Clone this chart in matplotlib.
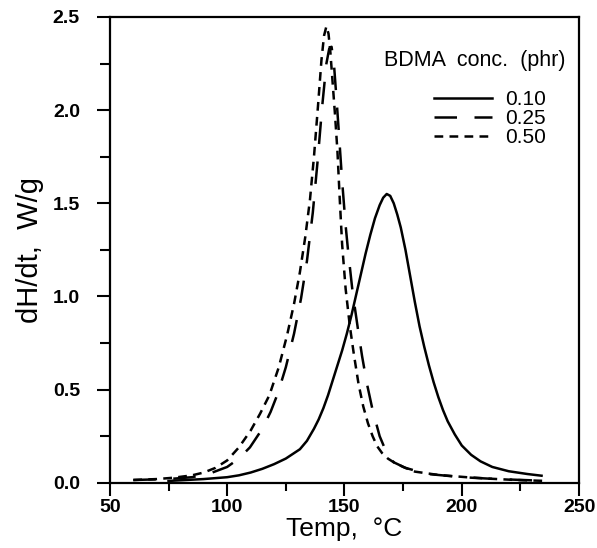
import numpy as np
import matplotlib.pyplot as plt

plt.rcParams['font.family'] = ['Liberation Sans', 'DejaVu Sans']

# BDMA 0.10 phr
temp_010 = [75, 90, 100, 105, 110, 115, 120, 125, 128, 131, 134, 137, 139, 141, 143, 145, 147, 149, 151, 153, 155,
            157, 159, 161, 163, 165, 166.5, 168, 169.5, 171, 172.5, 174, 176, 178, 180, 182, 184, 186, 188, 190, 192,
            194, 197, 200, 204, 208, 213, 220, 228, 234]
dhdt_010 = [0.01, 0.02, 0.03, 0.04, 0.055, 0.075, 0.10, 0.13, 0.155, 0.18, 0.225, 0.29, 0.34, 0.40, 0.47, 0.55, 0.63,
            0.71, 0.80, 0.90, 1.01, 1.12, 1.23, 1.33, 1.42, 1.49, 1.53, 1.55, 1.54, 1.50, 1.44, 1.37, 1.25, 1.11, 0.97,
            0.84, 0.73, 0.63, 0.54, 0.46, 0.39, 0.33, 0.26, 0.20, 0.15, 0.115, 0.085, 0.062, 0.047, 0.038]

# BDMA 0.25 phr
temp_025 = [60, 75, 85, 92.6, 100, 105, 109.7, 115, 118.5, 121.6, 125, 128.5, 131.5, 134, 136.5, 138.5, 140.5, 142.3,
            143.5, 144.5, 145.5, 146.5, 147.5, 149, 150.5, 151.5, 153.5, 155.8, 157.5, 159.6, 162, 165, 168, 171, 176,
            185, 200, 215, 228, 236]
dhdt_025 = [0.015, 0.02, 0.03, 0.05, 0.085, 0.13, 0.19, 0.29, 0.38, 0.48, 0.62, 0.80, 0.99, 1.19, 1.45, 1.72, 2.02, 2.25,
            2.33, 2.34, 2.25, 2.08, 1.90, 1.62, 1.38, 1.25, 1.02, 0.82, 0.68, 0.53, 0.39, 0.25, 0.16, 0.11, 0.08,
            0.048, 0.03, 0.02, 0.014, 0.01]

# BDMA 0.50 phr
temp_050 = [60, 70, 77, 85, 90, 95, 100, 105, 110, 114, 118, 122, 125.5, 128.5, 131, 133.3, 135.3, 137, 138.7, 140.2,
            141.3, 142.3, 143.2, 144, 145, 146, 147, 148, 149, 150.5, 152.3, 154, 156, 158, 160, 162, 164, 166, 168.5,
            171, 175, 180, 190, 202, 212, 223, 236]
dhdt_050 = [0.015, 0.02, 0.027, 0.04, 0.055, 0.08, 0.12, 0.19, 0.28, 0.37, 0.47, 0.62, 0.79, 0.96, 1.13, 1.32, 1.52,
            1.75, 2.02, 2.27, 2.40, 2.45, 2.41, 2.31, 2.14, 1.97, 1.78, 1.52, 1.28, 1.04, 0.84, 0.69, 0.53, 0.41, 0.32,
            0.25, 0.195, 0.16, 0.13, 0.11, 0.085, 0.06, 0.042, 0.03, 0.022, 0.015, 0.01]

labels = ['0.10', '0.25', '0.50']

fig = plt.figure(figsize=(5.97, 5.48), dpi=100)
ax = fig.add_axes([0.184, 0.119, 0.786, 0.850])

ax.plot(temp_010, dhdt_010, color='black', lw=1.8, ls='-', label=labels[0])
ax.plot(temp_025, dhdt_025, color='black', lw=1.8, ls=(0, (9, 7)), label=labels[1])
ax.plot(temp_050, dhdt_050, color='black', lw=1.8, ls=(0, (3.5, 2.5)), label=labels[2])

ax.set_xlim(50, 250)
ax.set_ylim(0, 2.5)
ax.set_xticks(np.arange(50, 251, 50))
ax.set_xticks(np.arange(75, 250, 50), minor=True)
ax.set_yticks(np.arange(0, 2.51, 0.5))
ax.set_yticks(np.arange(0.25, 2.5, 0.5), minor=True)
ax.set_yticklabels(['0.0', '0.5', '1.0', '1.5', '2.0', '2.5'])

for s in ax.spines.values():
    s.set_linewidth(1.6)
ax.tick_params(which='both', direction='out', top=False, right=False, width=1.5)
ax.tick_params(axis='x', which='major', length=9.5, pad=2, labelsize=14)
ax.tick_params(axis='x', which='minor', length=6)
ax.tick_params(axis='y', which='major', length=9.5, pad=12, labelsize=14)
ax.tick_params(axis='y', which='minor', length=7.5)
for t in ax.get_xticklabels() + ax.get_yticklabels():
    t.set_fontweight('bold')

ax.set_xlabel('Temp,  \u00b0C', fontsize=19, labelpad=1)
ax.set_ylabel('dH/dt,  W/g', fontsize=21, labelpad=6)

ax.text(0.970, 0.907, 'BDMA  conc.  (phr)', transform=ax.transAxes, ha='right', va='center', fontsize=15.5)
ax.legend(loc='upper right', bbox_to_anchor=(0.96, 0.875), frameon=False, fontsize=15,
          handlelength=2.8, handletextpad=0.6, labelspacing=0.0, borderpad=0.2)

fig.savefig('out.png', dpi=100)
